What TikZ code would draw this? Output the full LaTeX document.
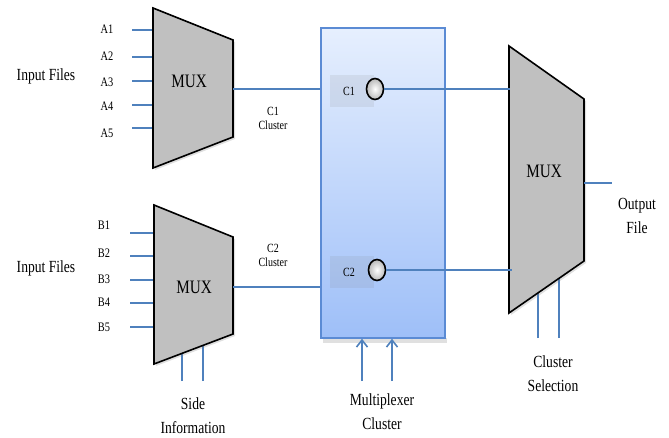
\documentclass[tikz,border=0pt]{standalone}
\usepackage{fontspec}
\setmainfont{Liberation Serif}
\usepackage{graphicx}
\usetikzlibrary{arrows.meta,shadows,shapes.geometric}
\definecolor{wireblue}{HTML}{4F81BD}
\definecolor{boxblue}{HTML}{5B8BD4}
\definecolor{muxgray}{HTML}{C0C0C0}
\definecolor{boxtop}{HTML}{E6EFFE}
\definecolor{boxbot}{HTML}{9EBFF8}
\newcommand{\hs}[1]{\scalebox{0.8}[1]{#1}}
\begin{document}
\begin{tikzpicture}[x=1pt,y=-1pt,
  wire/.style={wireblue, line width=1.8pt},
  muxshape/.style={fill=muxgray, draw=black, line width=1.6pt, line join=miter,
    drop shadow={opacity=0.25, shadow xshift=2pt, shadow yshift=-2pt}},
  big/.style={font=\fontsize{17}{24}\selectfont, inner sep=0pt, align=center},
  lbl/.style={font=\fontsize{13}{15}\selectfont, inner sep=0pt},
  small/.style={font=\fontsize{12.5}{15}\selectfont, inner sep=0pt, align=center},
  muxlbl/.style={font=\fontsize{19}{22}\selectfont, inner sep=0pt},
  knob/.style={ellipse, draw=black, line width=1.6pt, minimum width=17pt, minimum height=21pt,
    inner sep=0pt, inner color=white, outer color=gray!55},
  tag/.style={fill=gray, fill opacity=0.13, text opacity=1, minimum width=44pt, minimum height=32pt,
    inner sep=0pt, font=\fontsize{12.5}{15}\selectfont}]
\useasboundingbox (0,0) rectangle (669,437);

% ---------- MUX 1 ----------
\foreach \i/\y/\ly in {1/30/29,2/57/56,3/81/82,4/105/106,5/128/133}{
  \coordinate (a\i s) at (132,\y);
  \coordinate (a\i e) at (154,\y);
  \draw[wire] (a\i s) -- (a\i e);
  \node[lbl] (la\i) at (107,\ly) {\hs{A\i}};
}
\draw[muxshape] (153,8) -- (233,40) -- (233,137) -- (153,168) -- cycle;
\coordinate (m1out) at (233,89);
\node[muxlbl] (mux1) at (189,81) {\hs{MUX}};
\node[big] (in1) at (46,76) {\hs{Input Files}};

% ---------- MUX 2 ----------
\foreach \i/\y/\ly in {1/233/225,2/256/253,3/280/279,4/303/302,5/327/327}{
  \coordinate (b\i s) at (130,\y);
  \coordinate (b\i e) at (155,\y);
  \draw[wire] (b\i s) -- (b\i e);
  \node[lbl] (lb\i) at (104,\ly) {\hs{B\i}};
}
\coordinate (si1s) at (182,381); \coordinate (si1e) at (182,350);
\coordinate (si2s) at (203,381); \coordinate (si2e) at (203,342);
\draw[wire] (si1s) -- (si1e);
\draw[wire] (si2s) -- (si2e);
\draw[muxshape] (154,205) -- (233,237) -- (233,334) -- (154,364) -- cycle;
\coordinate (m2out) at (233,287);
\node[muxlbl] (mux2) at (194,287) {\hs{MUX}};
\node[big] (in2) at (46,268) {\hs{Input Files}};
\node[big] (side) at (193,416) {\hs{Side}\\\hs{Information}};

% ---------- Multiplexer cluster box ----------
\fill[black, opacity=0.12] (323,338) rectangle (447,343);
\node[draw=boxblue, line width=1.5pt, top color=boxtop, bottom color=boxbot,
  minimum width=124pt, minimum height=310pt, inner sep=0pt] (mc) at (383,183) {};
\draw[wire] (m1out) -- (m1out -| mc.west);
\draw[wire] (m2out) -- (m2out -| mc.west);
\node[small] (c1lbl) at (273,118) {\hs{C1}\\[-1pt]\hs{Cluster}};
\node[small] (c2lbl) at (273,255) {\hs{C2}\\[-1pt]\hs{Cluster}};

\node[tag] (t1) at (352,91) {};
\node[tag] (t2) at (352,272) {};
\node[lbl, font=\fontsize{12.5}{15}\selectfont] (t1txt) at (349,91) {\hs{C1}};
\node[lbl, font=\fontsize{12.5}{15}\selectfont] (t2txt) at (349,272) {\hs{C2}};

% ---------- MUX 3 ----------
\coordinate (m3in1) at (510,89);
\coordinate (m3in2) at (512,270);
\coordinate (cs1s) at (538,338); \coordinate (cs1e) at (538,290);
\coordinate (cs2s) at (559,338); \coordinate (cs2e) at (559,275);
\draw[wire] (cs1s) -- (cs1e);
\draw[wire] (cs2s) -- (cs2e);
\draw[muxshape] (509,46) -- (584,99) -- (584,261) -- (509,313) -- cycle;
\node[muxlbl] (mux3) at (544,171) {\hs{MUX}};
\coordinate (m3out) at (584,183);
\coordinate (outend) at (612,183);
\draw[wire] (m3out) -- (outend);
\node[big] (outf) at (637,216) {\hs{Output}\\\hs{File}};
\node[big] (csel) at (553,374) {\hs{Cluster}\\\hs{Selection}};

\node[knob] (k1) at (375,89) {};
\node[knob] (k2) at (377,270) {};
\draw[wire] (k1.east) -- (m3in1);
\draw[wire] (k2.east) -- (m3in2);

% ---------- control arrows into box ----------
\coordinate (ar1) at (362,381);
\coordinate (ar2) at (392,381);
\draw[wire, -{Straight Barb[length=7pt,width=11pt,line width=1.6pt]}] (ar1) -- (ar1 |- mc.south);
\draw[wire, -{Straight Barb[length=7pt,width=11pt,line width=1.6pt]}] (ar2) -- (ar2 |- mc.south);
\node[big] (mcl) at (382,412) {\hs{Multiplexer}\\\hs{Cluster}};
\end{tikzpicture}
\end{document}
